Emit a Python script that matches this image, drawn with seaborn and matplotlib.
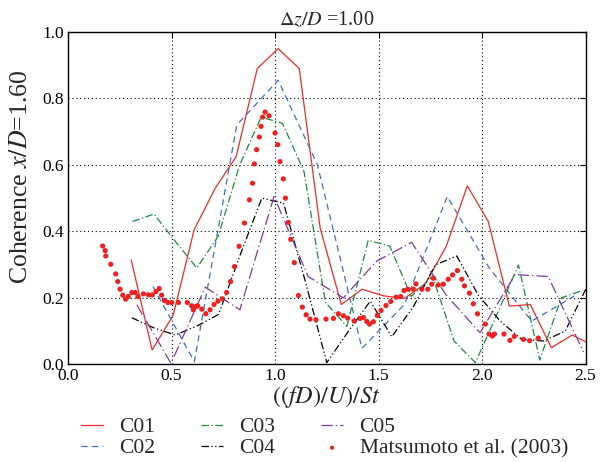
import matplotlib
matplotlib.use("Agg")
import matplotlib.pyplot as plt
import seaborn as sns
import pandas as pd

# ---- data ----
c01_x = [0.305, 0.406, 0.508, 0.609, 0.711, 0.812, 0.914, 1.015, 1.117, 1.218, 1.320, 1.421,
         1.523, 1.624, 1.726, 1.827, 1.929, 2.030, 2.132, 2.233, 2.335, 2.436, 2.538]
c01_y = [0.314, 0.043, 0.148, 0.405, 0.530, 0.625, 0.890, 0.950, 0.890, 0.410, 0.180, 0.226,
         0.206, 0.198, 0.242, 0.355, 0.537, 0.430, 0.175, 0.180, 0.050, 0.088, 0.056]

c02_x = [0.410, 0.610, 0.815, 1.015, 1.205, 1.420, 1.625, 1.832, 2.035, 2.240, 2.445]
c02_y = [0.234, 0.008, 0.720, 0.855, 0.600, 0.048, 0.180, 0.505, 0.290, 0.130, 0.205]

c03_x = [0.311, 0.415, 0.518, 0.622, 0.725, 0.829, 0.933, 1.036, 1.140, 1.243, 1.347, 1.450,
         1.554, 1.658, 1.761, 1.865, 1.968, 2.072, 2.176, 2.279, 2.383, 2.486]
c03_y = [0.430, 0.452, 0.370, 0.290, 0.385, 0.600, 0.744, 0.725, 0.580, 0.187, 0.114, 0.373,
         0.356, 0.204, 0.265, 0.070, 0.005, 0.150, 0.299, 0.013, 0.200, 0.222]

c04_x = [0.308, 0.413, 0.517, 0.622, 0.727, 0.832, 0.936, 1.041, 1.146, 1.250, 1.355, 1.460,
         1.564, 1.669, 1.774, 1.878, 1.983, 2.088, 2.192, 2.297, 2.402, 2.506]
c04_y = [0.140, 0.110, 0.088, 0.115, 0.150, 0.330, 0.500, 0.485, 0.250, 0.005, 0.100, 0.190,
         0.083, 0.174, 0.299, 0.326, 0.207, 0.130, 0.075, 0.070, 0.100, 0.232]

c05_x = [0.332, 0.497, 0.663, 0.830, 0.995, 1.160, 1.330, 1.490, 1.660, 1.825, 1.990, 2.160,
         2.320, 2.490]
c05_y = [0.179, 0.003, 0.232, 0.164, 0.505, 0.264, 0.200, 0.310, 0.367, 0.210, 0.095, 0.270,
         0.264, 0.037]

mats_x = [0.167, 0.179, 0.182, 0.206, 0.230, 0.240, 0.251, 0.264, 0.278, 0.291, 0.308, 0.324,
          0.337, 0.364, 0.388, 0.407, 0.425, 0.440, 0.452, 0.465, 0.482, 0.501, 0.533, 0.576,
          0.597, 0.605, 0.618, 0.626, 0.646, 0.665, 0.686, 0.705, 0.724, 0.746, 0.766, 0.785,
          0.804, 0.826, 0.852, 0.876, 0.891, 0.900, 0.911, 0.924, 0.932, 0.940, 0.952, 0.971,
          1.000, 1.013, 1.024, 1.040, 1.050, 1.064, 1.076, 1.093, 1.113, 1.132, 1.150, 1.169,
          1.198, 1.246, 1.282, 1.306, 1.330, 1.351, 1.382, 1.411, 1.427, 1.443, 1.456, 1.475,
          1.494, 1.512, 1.536, 1.559, 1.585, 1.607, 1.623, 1.641, 1.668, 1.681, 1.709, 1.738,
          1.757, 1.765, 1.789, 1.813, 1.837, 1.858, 1.881, 1.902, 1.915, 1.939, 1.958, 1.978,
          2.016, 2.034, 2.050, 2.060, 2.106, 2.135, 2.156, 2.200, 2.230, 2.272]
mats_y = [0.356, 0.342, 0.326, 0.301, 0.272, 0.249, 0.226, 0.208, 0.196, 0.204, 0.216, 0.216,
          0.204, 0.212, 0.209, 0.209, 0.219, 0.228, 0.208, 0.192, 0.186, 0.186, 0.186, 0.186,
          0.176, 0.164, 0.174, 0.176, 0.166, 0.152, 0.164, 0.180, 0.190, 0.197, 0.216, 0.249,
          0.294, 0.355, 0.425, 0.495, 0.545, 0.603, 0.646, 0.684, 0.716, 0.744, 0.759, 0.748,
          0.696, 0.661, 0.610, 0.558, 0.500, 0.427, 0.376, 0.306, 0.207, 0.172, 0.149, 0.136,
          0.134, 0.136, 0.138, 0.152, 0.146, 0.139, 0.130, 0.138, 0.141, 0.129, 0.121, 0.128,
          0.147, 0.162, 0.177, 0.189, 0.202, 0.204, 0.222, 0.226, 0.226, 0.242, 0.226, 0.226,
          0.241, 0.259, 0.239, 0.241, 0.256, 0.269, 0.282, 0.256, 0.236, 0.214, 0.182, 0.152,
          0.121, 0.091, 0.085, 0.091, 0.091, 0.072, 0.084, 0.075, 0.071, 0.079]

x_ticks = [0.0, 0.5, 1.0, 1.5, 2.0, 2.5]
y_ticks = [0.0, 0.2, 0.4, 0.6, 0.8, 1.0]

sns.set_theme(style="white")
plt.rcParams['font.family'] = ['Liberation Serif', 'DejaVu Serif']
plt.rcParams['mathtext.fontset'] = 'stix'

fig = plt.figure(figsize=(6.08, 4.62), dpi=100)
ax = fig.add_axes([0.112, 0.2115, 0.851, 0.7192])

series = [
    ("C01", c01_x, c01_y, "#ee2a2a", "-"),
    ("C02", c02_x, c02_y, "#3c6fc8", (0, (5, 3.5))),
    ("C03", c03_x, c03_y, "#1e8a3c", (0, (6, 2, 1, 2))),
    ("C04", c04_x, c04_y, "#000000", (0, (6, 2, 1, 2, 1, 2))),
    ("C05", c05_x, c05_y, "#7a3a9e", (0, (9, 2.5, 1, 2.5))),
]
for name, xs, ys, col, ls in series:
    df = pd.DataFrame({"x": xs, "y": ys})
    sns.lineplot(data=df, x="x", y="y", ax=ax, color=col, linestyle=ls,
                 linewidth=0.9, label=name, sort=False, estimator=None)

dfm = pd.DataFrame({"x": mats_x, "y": mats_y})
sns.scatterplot(data=dfm, x="x", y="y", ax=ax, color="#ee2020", s=14,
                edgecolor="none", label="Matsumoto et al. (2003)", zorder=5)

ax.set_xlim(0, 2.5)
ax.set_ylim(0, 1.0)
ax.set_xticks(x_ticks)
ax.set_yticks(y_ticks)
ax.set_xticklabels([f"{t:.1f}" for t in x_ticks])
ax.set_yticklabels([f"{t:.1f}" for t in y_ticks])
ax.grid(True, color="black", linestyle=(0, (1, 2.5)), linewidth=0.8)
ax.tick_params(direction="in", top=True, right=True, length=4, width=0.8,
               labelsize=12.5, colors="black", pad=3)
for sp in ax.spines.values():
    sp.set_color("black")
    sp.set_linewidth(1.0)

ax.set_title(r"$\Delta z/D$ =1.00", fontsize=14.5, pad=5)
ax.set_xlabel(r"$((fD)/U)/St$", fontsize=17.5, labelpad=0)
ax.set_ylabel(r"Coherence $x/D$=1.60", fontsize=18.5)
ax.yaxis.set_label_coords(-0.07, 0.565)

leg = ax.legend(loc="upper left", bbox_to_anchor=(0.133, 0.097),
                bbox_transform=fig.transFigure, ncol=3,
                frameon=False, fontsize=15.5, handlelength=1.05, handletextpad=0.75,
                columnspacing=2.1, labelspacing=0.05, borderaxespad=0.0, borderpad=0.0,
                markerscale=0.8)

fig.savefig("out.png", dpi=100)
